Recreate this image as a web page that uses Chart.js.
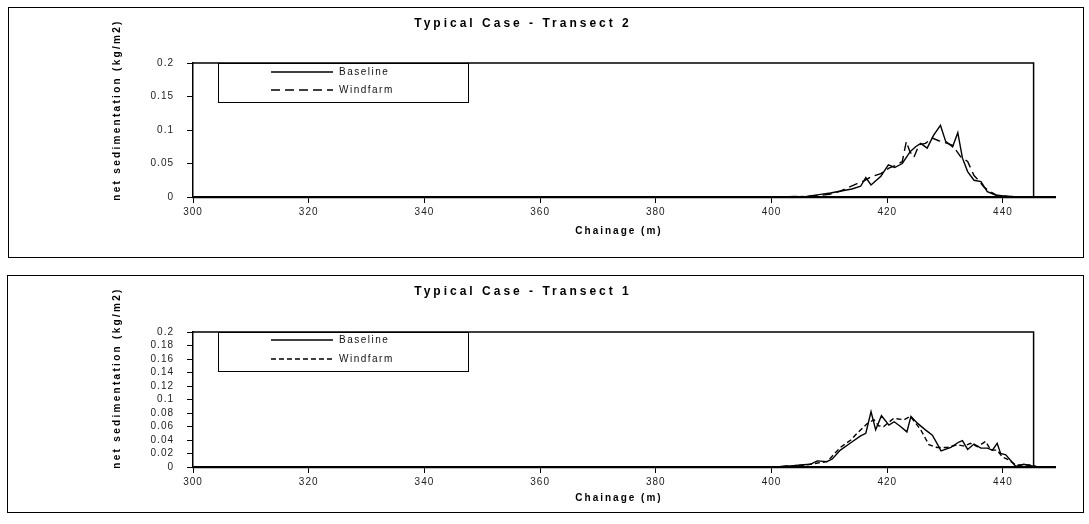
<!DOCTYPE html>
<html>
<head>
<meta charset="utf-8">
<script src="https://cdn.jsdelivr.net/npm/chart.js@4.4.1/dist/chart.umd.min.js"></script>
<style>
  body { margin: 0; background: #fff; width: 1089px; height: 524px; position: relative; overflow: hidden; }
  canvas { position: absolute; left: 0; }
  .frame { position: absolute; border: 1.5px solid #000; box-sizing: border-box; pointer-events: none; }
</style>
</head>
<body>
<div class="frame" style="left:8px;top:7px;width:1076px;height:251px"></div>
<canvas id="transect2" width="1089" height="265" style="top:0"></canvas>
<div class="frame" style="left:7px;top:275px;width:1077px;height:238px"></div>
<canvas id="transect1" width="1089" height="259" style="top:265px"></canvas>
<script>
// ===== Data =====
const chainageTicks = [300, 320, 340, 360, 380, 400, 420, 440];
const t2Ticks = [0, 0.05, 0.1, 0.15, 0.2];
const t1Ticks = [0, 0.02, 0.04, 0.06, 0.08, 0.1, 0.12, 0.14, 0.16, 0.18, 0.2];

// Transect 2
const t2BaseX = [402, 404, 405.5, 407, 408.5, 410.2, 412, 413.9, 415.4, 416.3, 417.2, 418.9, 420.2, 421.3, 422.6, 424, 424.9, 425.8, 426.9, 428, 429.2, 430.1, 431.3, 432.2, 433, 433.9, 435, 436.2, 437.3, 438.7, 440.8, 443];
const t2Base = [0, 0.001, 0, 0.002, 0.004, 0.006, 0.009, 0.012, 0.016, 0.029, 0.018, 0.031, 0.048, 0.044, 0.050, 0.068, 0.075, 0.080, 0.073, 0.092, 0.107, 0.083, 0.075, 0.096, 0.058, 0.038, 0.025, 0.023, 0.008, 0.003, 0.001, 0];
const t2WindX = [404, 406, 408, 410, 412, 413.7, 414.8, 416, 417.2, 418.9, 420.3, 421.4, 422.6, 423.3, 423.9, 424.6, 425.5, 426.6, 427.8, 428.9, 430.4, 431.3, 432.7, 433.9, 435, 435.9, 436.7, 437.6, 439, 441.5, 444];
const t2Wind = [0, 0.001, 0.002, 0.004, 0.009, 0.016, 0.020, 0.024, 0.030, 0.035, 0.043, 0.047, 0.053, 0.083, 0.068, 0.059, 0.078, 0.080, 0.088, 0.084, 0.080, 0.077, 0.060, 0.053, 0.032, 0.024, 0.015, 0.009, 0.002, 0.001, 0];

// Transect 1
const t1BaseX = [401.5, 403.8, 405, 406.7, 407.9, 409.6, 410.5, 411.9, 413.7, 415.4, 416.3, 417.2, 418, 419, 420.3, 421.2, 422.3, 423.4, 424.1, 425.2, 426.6, 427.8, 428.6, 429.3, 431, 432.4, 433, 433.9, 435, 436.2, 437.3, 438.2, 439, 439.6, 440.5, 441.3, 442.2, 443.6, 444.8, 446];
const t1Base = [0.001, 0.002, 0.003, 0.004, 0.009, 0.008, 0.012, 0.025, 0.036, 0.046, 0.050, 0.082, 0.055, 0.076, 0.062, 0.067, 0.060, 0.052, 0.075, 0.065, 0.055, 0.047, 0.035, 0.024, 0.029, 0.037, 0.039, 0.026, 0.034, 0.028, 0.028, 0.025, 0.035, 0.020, 0.018, 0.010, 0.001, 0.004, 0.002, 0];
const t1WindX = [402, 404, 406, 408, 409.6, 411.9, 413.7, 414.8, 416.5, 417.7, 418.5, 419.4, 421.1, 422.9, 424, 425.8, 427.2, 428.6, 430.4, 432.1, 433.3, 434.4, 435.6, 437, 437.9, 439, 439.9, 441.1, 442.2, 444.8, 446];
const t1Wind = [0.001, 0.002, 0.003, 0.006, 0.008, 0.029, 0.040, 0.050, 0.064, 0.070, 0.061, 0.060, 0.072, 0.070, 0.075, 0.055, 0.033, 0.029, 0.029, 0.033, 0.031, 0.035, 0.030, 0.038, 0.025, 0.025, 0.015, 0.010, 0.003, 0.003, 0];

const FONT = "'Liberation Sans', Arial, sans-serif";
const frameEndX = 445.3; // right edge of the plot box

function pairs(xs, ys) {
    return xs.map((x, i) => ({ x: x, y: ys[i] }));
}

// ===== Plugins =====
// wide letter spacing for everything the library writes
const spacing = {
    id: "spacing",
    beforeDraw(chart) { chart.ctx.letterSpacing = "1px"; }
};

// plot box, legend box and titles
const frame = {
    id: "frame",
    afterDraw(chart, args, o) {
        const { ctx, chartArea, scales: { x, y } } = chart;
        const top = y.getPixelForValue(0.2);
        const bottom = y.getPixelForValue(0);
        const right = x.getPixelForValue(frameEndX);

        ctx.save();
        ctx.strokeStyle = "#000";
        ctx.lineWidth = 1.5;
        ctx.beginPath();
        ctx.moveTo(chartArea.left, top);
        ctx.lineTo(right, top);
        ctx.lineTo(right, bottom);
        ctx.stroke();

        // legend
        const lx = chartArea.left + 25;
        ctx.fillStyle = "#fff";
        ctx.fillRect(lx, top, 250, 39);
        ctx.lineWidth = 1;
        ctx.strokeRect(lx + 0.5, top + 0.5, 250, 39);
        ctx.font = "10px " + FONT;
        ctx.letterSpacing = "1.5px";
        ctx.textBaseline = "middle";
        ctx.fillStyle = "#111";
        chart.data.datasets.forEach((ds, i) => {
            const ly = top + o.rows[i];
            ctx.lineWidth = 1.5;
            ctx.setLineDash(ds.borderDash || []);
            ctx.beginPath();
            ctx.moveTo(lx + 53, ly);
            ctx.lineTo(lx + 115, ly);
            ctx.stroke();
            ctx.setLineDash([]);
            ctx.fillText(ds.label, lx + 121, ly);
        });

        // titles
        ctx.textAlign = "center";
        ctx.fillStyle = "#000";
        ctx.font = "bold 12px " + FONT;
        ctx.letterSpacing = "3px";
        ctx.fillText(o.title, 523, o.titleY);

        ctx.font = "bold 10px " + FONT;
        ctx.letterSpacing = "2px";
        ctx.fillText("Chainage (m)", 619, o.xTitleY);

        ctx.translate(117, o.yTitleY);
        ctx.rotate(-Math.PI / 2);
        ctx.letterSpacing = "2.3px";
        ctx.fillText("net sedimentation (kg/m2)", 0, 0);
        ctx.restore();
    }
};

// ===== Charts =====
function makeChart(id, cfg) {
    return new Chart(document.getElementById(id), {
        type: "scatter",
        data: {
            datasets: [
                { label: "Baseline", data: pairs(cfg.baseX, cfg.base), showLine: true, borderColor: "#000", borderWidth: 1.4, pointRadius: 0, tension: 0 },
                { label: "Windfarm", data: pairs(cfg.windX, cfg.wind), showLine: true, borderColor: "#000", borderWidth: 1.4, borderDash: cfg.dash, pointRadius: 0, tension: 0 }
            ]
        },
        options: {
            responsive: false,
            animation: false,
            events: [],
            layout: { padding: { left: 0, right: 34, top: cfg.top, bottom: 0 } },
            plugins: {
                legend: { display: false },
                tooltip: { enabled: false },
                frame: { title: cfg.title, titleY: cfg.titleY, xTitleY: cfg.xTitleY, yTitleY: cfg.yTitleY, rows: cfg.rows }
            },
            scales: {
                x: {
                    type: "linear",
                    min: 300,
                    max: 449,
                    afterBuildTicks: s => { s.ticks = chainageTicks.map(v => ({ value: v })); },
                    afterFit: s => { s.height = cfg.xHeight; },
                    grid: { drawOnChartArea: false, tickLength: 6, color: "#000" },
                    border: { color: "#000", width: 2.2 },
                    ticks: { padding: 3, maxRotation: 0, autoSkip: false, color: "#222", font: { family: FONT, size: 10 } }
                },
                y: {
                    min: 0,
                    max: 0.2,
                    afterBuildTicks: s => { s.ticks = cfg.yTicks.map(v => ({ value: v })); },
                    afterFit: s => { s.width = 193; },
                    grid: { drawOnChartArea: false, tickLength: 6, color: "#000" },
                    border: { color: "#000", width: 1.5 },
                    ticks: {
                        padding: 13,
                        autoSkip: false,
                        color: "#222",
                        font: { family: FONT, size: 10 },
                        callback: v => String(Number(v.toFixed(2)))
                    }
                }
            }
        },
        plugins: [spacing, frame]
    });
}

makeChart("transect2", {
    baseX: t2BaseX, base: t2Base, windX: t2WindX, wind: t2Wind,
    dash: [9, 5], yTicks: t2Ticks,
    top: 63, xHeight: 68,
    title: "Typical Case - Transect 2", titleY: 24, xTitleY: 231, yTitleY: 110,
    rows: [9, 27]
});

makeChart("transect1", {
    baseX: t1BaseX, base: t1Base, windX: t1WindX, wind: t1Wind,
    dash: [5, 3], yTicks: t1Ticks,
    top: 67, xHeight: 57,
    title: "Typical Case - Transect 1", titleY: 27, xTitleY: 233, yTitleY: 113,
    rows: [8, 27]
});
</script>
</body>
</html>
